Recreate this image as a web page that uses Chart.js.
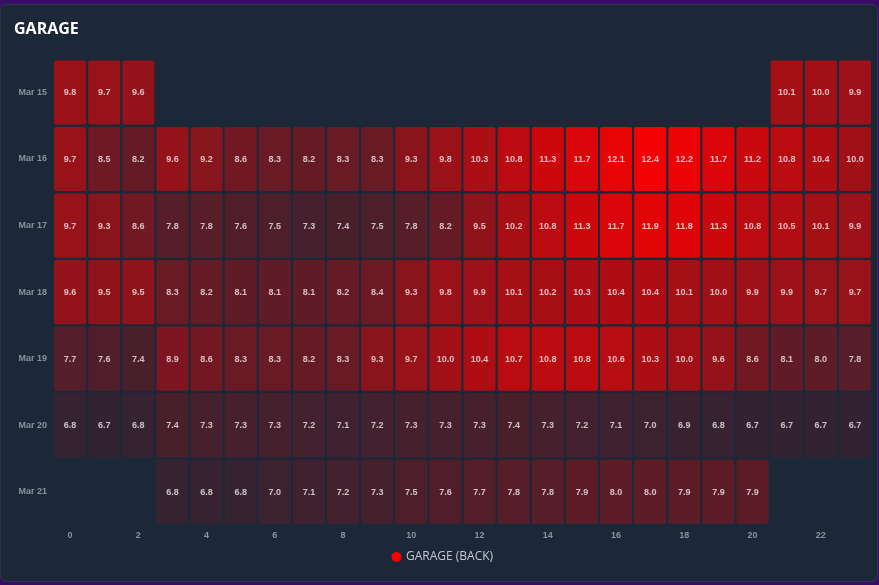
<!DOCTYPE html>
<html>
<head>
<meta charset="utf-8">
<script src="https://cdn.jsdelivr.net/npm/chart.js@4/dist/chart.umd.min.js"></script>
<style>
  html, body { margin: 0; padding: 0; }
  body { width: 879px; height: 585px; background: #3a0b69; position: relative; overflow: hidden; }
  #card { position: absolute; left: 0; top: 4px; width: 876px; height: 576px; background: #1c2838;
          border: 1px solid #2a3747; border-radius: 6px; }
  #wrap { position: absolute; left: 0; top: 0; width: 879px; height: 585px; }
</style>
</head>
<body>
<div id="card"></div>
<div id="wrap"><canvas id="c" width="879" height="585"></canvas></div>
<script>
// ---- data ----
const hours = ['0','1','2','3','4','5','6','7','8','9','10','11','12','13','14','15','16','17','18','19','20','21','22','23'];
const days = ['Mar 15','Mar 16','Mar 17','Mar 18','Mar 19','Mar 20','Mar 21'];
const mar15 = [9.8, 9.7, 9.6, null, null, null, null, null, null, null, null, null, null, null, null, null, null, null, null, null, null, 10.1, 10.0, 9.9];
const mar16 = [9.7, 8.5, 8.2, 9.6, 9.2, 8.6, 8.3, 8.2, 8.3, 8.3, 9.3, 9.8, 10.3, 10.8, 11.3, 11.7, 12.1, 12.4, 12.2, 11.7, 11.2, 10.8, 10.4, 10.0];
const mar17 = [9.7, 9.3, 8.6, 7.8, 7.8, 7.6, 7.5, 7.3, 7.4, 7.5, 7.8, 8.2, 9.5, 10.2, 10.8, 11.3, 11.7, 11.9, 11.8, 11.3, 10.8, 10.5, 10.1, 9.9];
const mar18 = [9.6, 9.5, 9.5, 8.3, 8.2, 8.1, 8.1, 8.1, 8.2, 8.4, 9.3, 9.8, 9.9, 10.1, 10.2, 10.3, 10.4, 10.4, 10.1, 10.0, 9.9, 9.9, 9.7, 9.7];
const mar19 = [7.7, 7.6, 7.4, 8.9, 8.6, 8.3, 8.3, 8.2, 8.3, 9.3, 9.7, 10.0, 10.4, 10.7, 10.8, 10.8, 10.6, 10.3, 10.0, 9.6, 8.6, 8.1, 8.0, 7.8];
const mar20 = [6.8, 6.7, 6.8, 7.4, 7.3, 7.3, 7.3, 7.2, 7.1, 7.2, 7.3, 7.3, 7.3, 7.4, 7.3, 7.2, 7.1, 7.0, 6.9, 6.8, 6.7, 6.7, 6.7, 6.7];
const mar21 = [null, null, null, 6.8, 6.8, 6.8, 7.0, 7.1, 7.2, 7.3, 7.5, 7.6, 7.7, 7.8, 7.8, 7.9, 8.0, 8.0, 7.9, 7.9, 7.9, null, null, null];
const seriesName = 'GARAGE (BACK)';
const rows = [mar15, mar16, mar17, mar18, mar19, mar20, mar21];

// ---- styling helpers ----
function cellColor(v) {
  if (v == null) return 'rgba(0,0,0,0)';
  let a = 0.1 + (v - 6.7) * 0.148;
  a = Math.max(0.05, Math.min(1, a));
  return 'rgba(255,0,0,' + a.toFixed(3) + ')';
}
const HALF = 0.482;

const datasets = rows.map((vals, r) => ({
  label: days[r],
  data: vals.map(v => v == null ? null : [r - HALF, r + HALF]),
  raw: vals,
  backgroundColor: ctx => cellColor(vals[ctx.dataIndex]),
  borderWidth: 0,
  borderRadius: 2,
  borderSkipped: false,
  categoryPercentage: 1.0,
  barPercentage: 0.94
}));

const cellLabels = {
  id: 'cellLabels',
  afterDatasetsDraw(chart) {
    const ctx = chart.ctx;
    ctx.save();
    ctx.font = 'bold 9px "Liberation Sans", Arial, sans-serif';
    ctx.fillStyle = 'rgba(240,230,232,0.8)';
    ctx.textAlign = 'center';
    ctx.textBaseline = 'middle';
    chart.data.datasets.forEach((ds, di) => {
      const meta = chart.getDatasetMeta(di);
      meta.data.forEach((el, i) => {
        const v = ds.raw[i];
        if (v == null) return;
        ctx.fillText(v.toFixed(1), el.x, (el.y + el.base) / 2 + 0.5);
      });
    });
    ctx.restore();
  }
};

new Chart(document.getElementById('c'), {
  type: 'bar',
  data: { labels: hours, datasets },
  options: {
    responsive: false,
    animation: false,
    layout: { padding: { left: 14, right: 7, top: 0, bottom: 12 } },
    scales: {
      x: {
        stacked: true,
        grid: { display: false, drawTicks: false },
        border: { display: false },
        afterFit: s => { s.height = 20; },
        ticks: {
          autoSkip: false, maxRotation: 0, padding: 5,
          color: '#8a929c',
          font: { family: '"Liberation Sans", Arial, sans-serif', size: 9, weight: 'bold' },
          callback: (val, i) => (i % 2 === 0 ? hours[i] : '')
        }
      },
      y: {
        type: 'linear',
        reverse: true,
        min: -0.5, max: 6.5,
        stacked: false,
        grid: { display: false, drawTicks: false },
        border: { display: false },
        afterFit: s => { s.width = 39; },
        afterBuildTicks: s => { s.ticks = days.map((d, i) => ({ value: i })); },
        ticks: {
          padding: 6,
          color: '#8a929c',
          font: { family: '"Liberation Sans", Arial, sans-serif', size: 9, weight: 'bold' },
          callback: v => days[v] ?? ''
        }
      }
    },
    plugins: {
      title: {
        display: true, text: 'GARAGE', align: 'start', color: '#ffffff',
        font: { family: '"Open Sans", Inter, sans-serif', size: 16, weight: 'bold' },
        padding: { top: 20, bottom: 20 }
      },
      legend: {
        position: 'bottom',
        labels: {
          usePointStyle: true, boxWidth: 7, boxHeight: 7, padding: 6,
          color: '#c3c8cf',
          font: { family: '"Open Sans", sans-serif', size: 12 },
          generateLabels: () => [{ text: seriesName, fillStyle: '#ff0000', strokeStyle: '#ff0000', lineWidth: 0, pointStyle: 'circle', hidden: false, datasetIndex: 0, fontColor: '#c3c8cf' }]
        },
        onClick: () => {}
      },
      tooltip: { enabled: false }
    }
  },
  plugins: [cellLabels]
});
</script>
</body>
</html>
